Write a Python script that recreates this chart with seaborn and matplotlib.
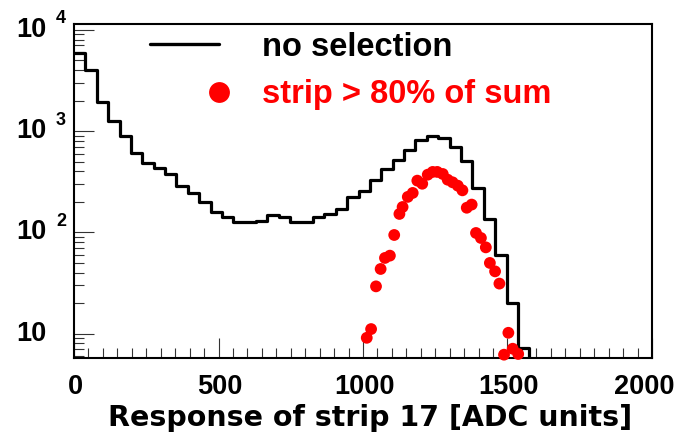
import numpy as np
import pandas as pd
import matplotlib
matplotlib.use("Agg")
import matplotlib.pyplot as plt
import seaborn as sns
from matplotlib.lines import Line2D
from matplotlib.ticker import MultipleLocator, LogLocator, NullFormatter, FixedLocator

# ---- data -----------------------------------------------------------------
bin_width = 2048 / 52  # ADC counts per histogram bin

# all events, counts per bin starting at 0 ADC
no_selection_counts = [
    5900, 3970, 1950, 1266, 895, 603, 488, 432, 380, 284,
    245, 198, 159, 141, 126, 126, 128, 150, 141, 126,
    126, 142, 152, 170, 224, 256, 326, 422, 522, 655,
    809, 887, 861, 697, 502, 274, 136, 60, 20, 7.2,
    0, 0, 0, 0, 0, 0, 0, 0, 0, 0,
]

# events where the strip carries > 80% of the cluster sum
sel_adc = [1013, 1028, 1045, 1061, 1076, 1093, 1108, 1126, 1137, 1155,
           1172, 1188, 1205, 1224, 1241, 1257, 1276, 1293, 1310, 1328,
           1344, 1359, 1376, 1391, 1408, 1425, 1439, 1457, 1472, 1488,
           1503, 1518, 1537]
sel_counts = [9.1, 11.1, 29.3, 43.5, 55.9, 58.9, 94.2, 152, 178, 224,
              245, 324, 302, 371, 395, 395, 377, 331, 312, 289,
              260, 175, 188, 98.6, 88, 71.1, 49.9, 41.2, 31.2, 6.2,
              10.2, 7.1, 6.3]

x_ticks = [0, 500, 1000, 1500, 2000]
y_decades = [1, 2, 3, 4]
legend_labels = ["no selection", "strip > 80% of sum"]
x_title = "Response of strip 17 [ADC units]"

# ---- style ----------------------------------------------------------------
sns.set_theme(style="ticks")
plt.rcParams["font.family"] = ["Liberation Sans", "DejaVu Sans"]
plt.rcParams["font.weight"] = "bold"
plt.rcParams["text.color"] = "black"

W, H = 677, 437
fig = plt.figure(figsize=(W / 100, H / 100), dpi=100)
fig.patch.set_facecolor("white")
ax = fig.add_axes([74 / W, (H - 358) / H, (652 - 74) / W, (358 - 24) / H])
ax.set_facecolor("white")

# ---- histogram (black steps) ---------------------------------------------
edges = [i * bin_width for i in range(len(no_selection_counts) + 1)]
hist_df = pd.DataFrame({
    "adc": [e + bin_width / 2 for e in edges[:-1]],
    "count": no_selection_counts,
})
sns.histplot(data=hist_df, x="adc", weights="count", bins=edges,
             element="step", fill=False, color="black", linewidth=2.3,
             ax=ax, zorder=2)

# ---- selected events (red dots) ------------------------------------------
sel_df = pd.DataFrame({"adc": sel_adc, "count": sel_counts})
sns.scatterplot(data=sel_df, x="adc", y="count", color="red", s=72,
                edgecolor="none", linewidth=0, ax=ax, zorder=3,
                clip_on=False)

ax.set_yscale("log")
ax.set_xlim(0, 2000)
ax.set_ylim(5.75, 11400)

# ---- axes frame and ticks --------------------------------------------------
for side in ["left", "bottom", "top", "right"]:
    ax.spines[side].set_linewidth(1.5)
    ax.spines[side].set_color("black")

ax.xaxis.set_major_locator(FixedLocator(x_ticks))
ax.xaxis.set_minor_locator(MultipleLocator(50))
ax.xaxis.set_major_formatter(NullFormatter())
ax.yaxis.set_major_locator(FixedLocator([10.0 ** d for d in y_decades]))
ax.yaxis.set_minor_locator(LogLocator(base=10, subs=np.arange(2, 10)))
ax.yaxis.set_major_formatter(NullFormatter())
ax.yaxis.set_minor_formatter(NullFormatter())

ax.tick_params(axis="both", which="major", direction="in", length=14.5,
               width=0.8, color="#333333", top=False, right=False)
ax.tick_params(axis="both", which="minor", direction="in", length=7.2,
               width=0.8, color="#333333", top=False, right=False)

# x labels below the frame; the last one is nudged inward to stay on canvas
for t in x_ticks:
    shift = -8 if t == x_ticks[-1] else 1
    ax.annotate(str(t), xy=(t, 0), xycoords=("data", "axes fraction"),
                xytext=(shift, -16), textcoords="offset pixels",
                ha="center", va="top", fontsize=19.5, fontweight="bold",
                color="black", annotation_clip=False)

# y labels as 10 with a raised exponent
for d in y_decades:
    ax.annotate("10", xy=(0, 10.0 ** d), xycoords=("axes fraction", "data"),
                xytext=(-28, 0), textcoords="offset pixels",
                ha="right", va="center", fontsize=19.5, fontweight="bold",
                color="black", annotation_clip=False)
    if d > 1:
        ax.annotate(str(d), xy=(0, 10.0 ** d), xycoords=("axes fraction", "data"),
                    xytext=(-18, 11), textcoords="offset pixels",
                    ha="left", va="center", fontsize=13, fontweight="bold",
                    color="black", annotation_clip=False)

ax.set_ylabel("")
ax.set_xlabel(x_title, fontsize=20.5, fontweight="bold", ha="right",
              va="baseline", color="black", family=["DejaVu Sans"])
ax.xaxis.set_label_coords((632 - 74) / (652 - 74), (358 - 426.5) / (358 - 24))

# ---- legend ---------------------------------------------------------------
fig.add_artist(Line2D([150 / W, 219 / W], [(H - 44) / H] * 2,
                      transform=fig.transFigure, color="black", linewidth=2.4))
fig.add_artist(Line2D([219 / W], [(H - 92) / H], transform=fig.transFigure,
                      marker="o", markersize=15, color="red",
                      markeredgewidth=0, linestyle="none"))
fig.text(262 / W, (H - 56) / H, legend_labels[0], fontsize=23.5,
         fontweight="bold", color="black", va="baseline", ha="left")
fig.text(262 / W, (H - 102.5) / H, legend_labels[1], fontsize=23.5,
         fontweight="bold", color="red", va="baseline", ha="left")

fig.savefig("out.png", dpi=100, facecolor="white")
